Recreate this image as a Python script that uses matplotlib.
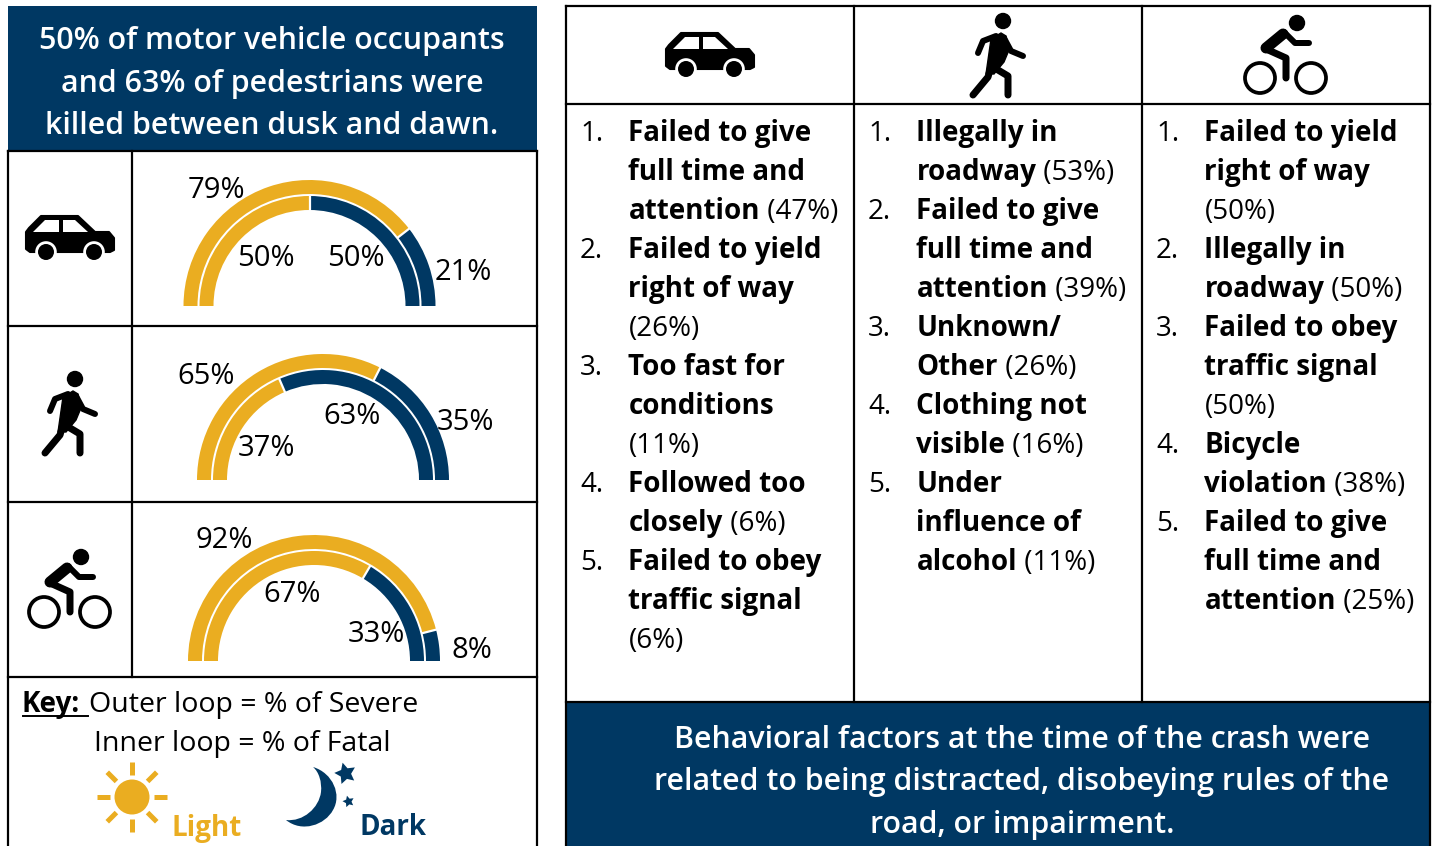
import matplotlib
matplotlib.use("Agg")
import matplotlib.pyplot as plt
from matplotlib.patches import Rectangle, Circle, Polygon, PathPatch
from matplotlib.path import Path
import numpy as np

plt.rcParams["font.family"] = ["Open Sans", "DejaVu Sans"]

W, H = 1434, 846
NAVY = "#003863"
GOLD = "#EAAD21"

# share killed / severe in light and dark: (light, dark)
outer_loop = [(79, 21), (65, 35), (92, 8)]
inner_loop = [(50, 50), (37, 63), (67, 33)]

left_title = ["50% of motor vehicle occupants",
              "and 63% of pedestrians were",
              "killed between dusk and dawn."]
bottom_title = ["Behavioral factors at the time of the crash were",
                "related to being distracted, disobeying rules of the",
                "road, or impairment."]

# every factor is a list of wrapped lines: (bold part, regular part)
car_factors = [
    [("Failed to give", ""), ("full time and", ""), ("attention", " (47%)")],
    [("Failed to yield", ""), ("right of way", ""), ("", "(26%)")],
    [("Too fast for", ""), ("conditions", ""), ("", "(11%)")],
    [("Followed too", ""), ("closely", " (6%)")],
    [("Failed to obey", ""), ("traffic signal", ""), ("", "(6%)")],
]
ped_factors = [
    [("Illegally in", ""), ("roadway", " (53%)")],
    [("Failed to give", ""), ("full time and", ""), ("attention", " (39%)")],
    [("Unknown/", ""), ("Other", " (26%)")],
    [("Clothing not", ""), ("visible", " (16%)")],
    [("Under", ""), ("influence of", ""), ("alcohol", " (11%)")],
]
bike_factors = [
    [("Failed to yield", ""), ("right of way", ""), ("", "(50%)")],
    [("Illegally in", ""), ("roadway", " (50%)")],
    [("Failed to obey", ""), ("traffic signal", ""), ("", "(50%)")],
    [("Bicycle", ""), ("violation", " (38%)")],
    [("Failed to give", ""), ("full time and", ""), ("attention", " (25%)")],
]

# layout, in pixels of the picture
gauge_centers = [(309.5, 306), (323, 480), (314, 661)]
outer_label_pos = [((216, 191), (463, 273)), ((206, 377), (465, 423)), ((224, 541), (472, 651))]
inner_label_pos = [((266, 258), (356, 258)), ((266, 448), (352, 417)), ((292, 595), (376, 634))]
column_x = [580, 868, 1156]
FS = 20.0
PCT_FS = 21.0
TITLE_FS = 21.9

fig = plt.figure(figsize=(W / 100, H / 100), dpi=100)
ax = fig.add_axes([0, 0, 1, 1])
ax.set_xlim(0, W)
ax.set_ylim(H, 0)
ax.axis("off")
renderer = fig.canvas.get_renderer()


def hline(x0, x1, y, lw=1.6):
    ax.plot([x0, x1], [y, y], color="black", lw=lw, solid_capstyle="projecting", zorder=3)


def vline(x, y0, y1, lw=1.6):
    ax.plot([x, x], [y0, y1], color="black", lw=lw, solid_capstyle="projecting", zorder=3)


def put_line(x, y, parts, size=FS, color="black"):
    # runs of text with different weights on one baseline
    for txt, weight in parts:
        if not txt:
            continue
        t = ax.text(x, y, txt, fontsize=size, fontweight=weight, color=color, va="baseline", ha="left")
        x = ax.transData.inverted().transform(
            (t.get_window_extent(renderer).x1, 0))[0]
    return x


def stroke(points, width, color="black", dx=0, dy=0):
    xs = [p[0] + dx for p in points]
    ys = [p[1] + dy for p in points]
    ax.plot(xs, ys, color=color, lw=width * 0.72, solid_capstyle="round", solid_joinstyle="round", zorder=4)


def car_icon(x, y):
    body = [(0, 16), (3, 12), (15, 0), (52, 0), (69, 16), (83, 16), (88, 22), (88, 34), (84, 36), (4, 36), (0, 33)]
    ax.add_patch(Polygon([(x + a, y + b) for a, b in body], fc="black", ec="black", lw=1.5, joinstyle="round", zorder=4))
    for win in ([(7, 16), (19, 4), (33, 4), (33, 16)], [(37, 4), (49, 4), (62, 16), (37, 16)]):
        ax.add_patch(Polygon([(x + a, y + b) for a, b in win], fc="white", ec="none", zorder=5))
    for cx in (20, 68):
        ax.add_patch(Circle((x + cx, y + 36), 10.8, fc="white", ec="none", zorder=5))
        ax.add_patch(Circle((x + cx, y + 36), 8, fc="black", ec="none", zorder=6))


def walker_icon(dx, dy):
    ax.add_patch(Circle((75 + dx, 379 + dy), 8.2, fc="black", ec="none", zorder=4))
    torso = [(63, 397), (73, 391), (78, 394), (81, 408), (76, 420), (66, 432), (58, 432)]
    ax.add_patch(Polygon([(a + dx, b + dy) for a, b in torso], fc="black", ec="black", lw=1, zorder=4))
    stroke([(68, 394), (55, 399), (50, 411)], 6, dx=dx, dy=dy)
    stroke([(76, 396), (83, 409), (95, 414)], 6, dx=dx, dy=dy)
    stroke([(62, 428), (60, 435), (45, 453)], 7, dx=dx, dy=dy)
    stroke([(65, 425), (80, 434), (80, 453)], 7, dx=dx, dy=dy)


def cyclist_icon(dx, dy):
    ax.add_patch(Circle((81 + dx, 557 + dy), 8.2, fc="black", ec="none", zorder=4))
    stroke([(67, 568), (50, 582)], 11, dx=dx, dy=dy)
    stroke([(68, 566), (79, 577), (93, 577)], 6, dx=dx, dy=dy)
    stroke([(50, 583), (70, 592), (70, 612)], 7, dx=dx, dy=dy)
    for cx in (44, 95):
        ax.add_patch(Circle((cx + dx, 612 + dy), 15, fc="none", ec="black", lw=2.7, zorder=4))


def gauge(center, outer, inner):
    # half pies: the extra wedge of equal size fills the hidden lower half
    cx, cy = center
    box = 130
    gax = fig.add_axes([(cx - box) / W, 1 - (cy + box) / H, 2 * box / W, 2 * box / H])
    for vals, r in ((outer, 126), (inner, 110)):
        gax.pie(list(vals) + [sum(vals)], radius=r, startangle=180, counterclock=False,
                colors=[GOLD, NAVY, "none"], frame=True,
                wedgeprops=dict(width=14, edgecolor="none"))
        # white cut between light and dark
        a = np.pi - vals[0] / sum(vals) * np.pi
        gax.plot([(r - 14) * np.cos(a), r * np.cos(a)], [(r - 14) * np.sin(a), r * np.sin(a)],
                 color="white", lw=1.6)
    gax.set_xlim(-box, box)
    gax.set_ylim(-box, box)
    gax.axis("off")
    gax.patch.set_alpha(0)


# navy bands
ax.add_patch(Rectangle((8, 6), 529, 145, fc=NAVY, ec="none"))
ax.add_patch(Rectangle((566, 702), 864, 144, fc=NAVY, ec="none"))

# left panel frame
vline(8, 151, 846)
vline(537, 151, 846)
vline(132, 151, 677)
for y in (151, 326, 502, 677):
    hline(8, 537, y)

# right panel frame
hline(566, 1430, 6)
hline(566, 1430, 104)
vline(566, 6, 846)
vline(1430, 6, 846)
vline(854, 6, 702)
vline(1142, 6, 702)
hline(566, 1430, 702)

for txt, y in zip(left_title, (49, 92, 134)):
    ax.text(272, y, txt, color="white", fontsize=TITLE_FS, ha="center", va="baseline", fontweight=600)
for txt, y in zip(bottom_title, (748, 790, 833)):
    ax.text(1022, y, txt, color="white", fontsize=TITLE_FS, ha="center", va="baseline", fontweight=600)

for i in range(3):
    gauge(gauge_centers[i], outer_loop[i], inner_loop[i])
    for val, pos in zip(outer_loop[i], outer_label_pos[i]):
        ax.text(pos[0], pos[1], f"{val}%", fontsize=PCT_FS, ha="center", va="center", zorder=8)
    for val, pos in zip(inner_loop[i], inner_label_pos[i]):
        ax.text(pos[0], pos[1], f"{val}%", fontsize=PCT_FS, ha="center", va="center", zorder=8)

car_icon(26, 216)
walker_icon(0, 0)
cyclist_icon(0, 0)
car_icon(666, 33)
walker_icon(928, -358)
cyclist_icon(1216, -534)

# numbered lists
for x0, factors in zip(column_x, [car_factors, ped_factors, bike_factors]):
    row = 0
    for n, factor in enumerate(factors, 1):
        base = 141 + row * 39
        ax.text(x0, base, f"{n}.", fontsize=FS, va="baseline")
        for bold, reg in factor:
            put_line(x0 + 48.5, 141 + row * 39, [(bold, "bold"), (reg, "normal")])
            row += 1

# key
put_line(22, 712, [("Key:", "bold")])
hline(23, 88, 716, lw=1.4)
put_line(89, 712, [("Outer loop = % of Severe", "normal")], size=20.5)
put_line(94, 751, [("Inner loop = % of Fatal", "normal")], size=20.5)
put_line(172, 836, [("Light", "bold")], color=GOLD)
put_line(360, 835, [("Dark", "bold")], color=NAVY)

# sun
sx, sy = 132, 797
ax.add_patch(Circle((sx, sy), 17.5, fc=GOLD, ec="none"))
for ang in np.arange(0, 360, 45):
    c, s = np.cos(np.radians(ang)), np.sin(np.radians(ang))
    ax.plot([sx + 22 * c, sx + 35 * c], [sy + 22 * s, sy + 35 * s], color=GOLD, lw=3.6, solid_capstyle="butt")

# moon and stars
moon = Path([(313, 767), (333, 773), (342, 795), (333, 810), (325, 825), (302, 833), (286, 820),
             (303, 822), (319, 808), (321, 792), (322, 782), (319, 772), (313, 767)],
            [Path.MOVETO] + [Path.CURVE4] * 12)
ax.add_patch(PathPatch(moon, fc=NAVY, ec="none"))
ax.scatter([345], [773], s=260, marker=(5, 1, 15), color=NAVY, linewidths=0)
ax.scatter([348], [801], s=75, marker=(5, 1, 15), color=NAVY, linewidths=0)

fig.savefig("out.png", dpi=100)
